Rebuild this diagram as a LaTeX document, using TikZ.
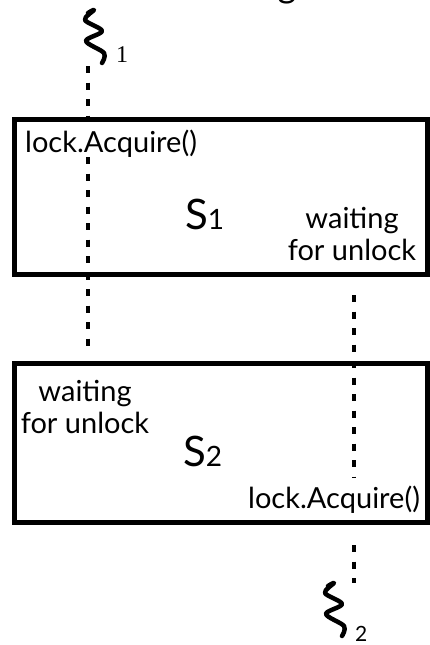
\documentclass[tikz,border=0pt]{standalone}
\usepackage{fontspec}
\setmainfont{Lato}
\newfontfamily\digitserif{Liberation Serif}
\begin{document}
\begin{tikzpicture}[x=1pt,y=-1pt,
  frame/.style={draw, line width=5pt, minimum width=413pt, inner sep=0pt},
  thread/.style={line width=4.5pt, dash pattern=on 7pt off 9.5pt},
  label/.style={font=\fontsize{29}{32}\selectfont, inner sep=0pt},
  big/.style={font=\fontsize{42}{42}\selectfont, inner sep=0pt},
  squig/.style={line width=4.5pt, line cap=round, line join=round},
  squiggle/.pic={\draw[squig] plot[smooth, tension=0.55]
      coordinates {(-6,3) (0,0) (-9,10) (8,21) (-8,31) (10,43) (8,53)};}
]
\useasboundingbox (0,0) rectangle (430,645);

% fragment of the heading above the page edge
\node[font=\fontsize{36}{36}\selectfont, anchor=south, inner sep=0pt] (title) at (287,4) {g};

% the two critical sections
\node[frame, minimum height=155pt] (box1) at (221,196.5) {};
\node[frame, minimum height=159.5pt] (box2) at (221,442.75) {};

% thread 1
\pic at (94,10) {squiggle};
\node[font=\digitserif\fontsize{24}{24}\selectfont, anchor=base west, inner sep=0pt] (th1) at (116,62) {1};
\coordinate (t1top) at (88,66);
\coordinate (t1end) at (88,347);

% thread 2
\pic at (334,583) {squiggle};
\node[font=\fontsize{21}{21}\selectfont, anchor=base west, inner sep=0pt] (th2) at (355,641) {2};
\coordinate (t2top) at (354,295);
\coordinate (t2mid) at (354,478);
\coordinate (t2low) at (354,545);
\coordinate (t2end) at (354,583);

% labels in section 1
\node[label, anchor=base west] (lockA) at (25,152) {lock.Acquire()};
\node[big, anchor=base west] (sA) at (185,229) {S{\fontsize{28}{28}\selectfont 1}};
\node[label, align=center, anchor=base] (waitA) at (352,260) {waiting\\for unlock};

% labels in section 2
\node[label, align=center, anchor=base] (waitB) at (85,433) {waiting\\for unlock};
\node[big, anchor=base west] (sB) at (183,466) {S{\fontsize{28}{28}\selectfont 2}};
\node[label, anchor=base west] (lockB) at (248,508) {lock.Acquire()};

% thread paths
\draw[thread] (t1top) -- (t1top |- box1.north);
\draw[thread] (lockA.south -| t1top) -- (t1end);
\draw[thread] (t2top) -- (t2mid);
\draw[thread] (t2low) -- (t2end);
\end{tikzpicture}
\end{document}
